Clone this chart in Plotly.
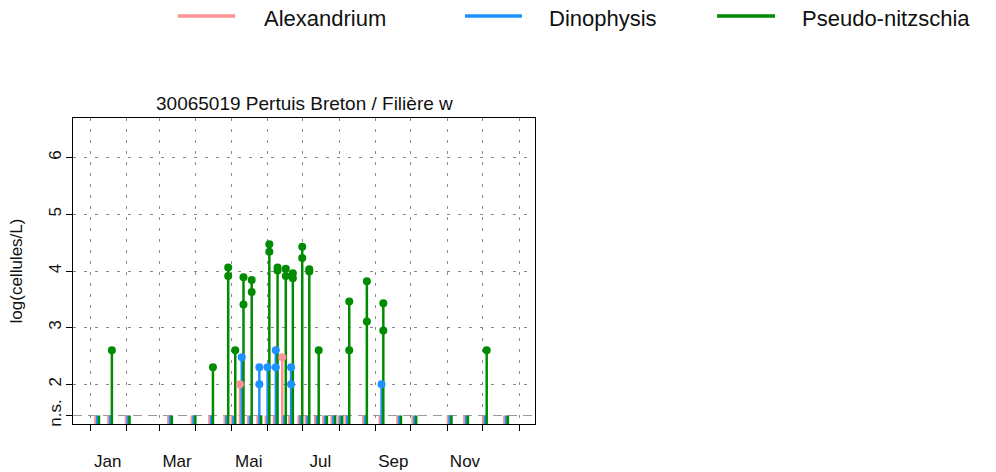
import pandas as pd
import plotly.graph_objects as go

# Sampling dates at the station (one triplet of stems per date)
sample_dates = [
    "2021-01-07", "2021-01-18", "2021-02-02", "2021-03-10", "2021-03-30",
    "2021-04-14", "2021-04-27", "2021-05-03", "2021-05-10", "2021-05-17",
    "2021-05-25", "2021-06-01", "2021-06-08", "2021-06-15", "2021-06-21",
    "2021-06-29", "2021-07-05", "2021-07-13", "2021-07-20", "2021-07-27",
    "2021-08-02", "2021-08-08", "2021-08-23", "2021-09-06", "2021-09-21",
    "2021-10-04", "2021-11-03", "2021-11-17", "2021-12-03", "2021-12-21",
]

# Significant counts, log10(cells/L); every other sampled date is n.s.
alexandrium_dates = ["2021-05-10", "2021-06-15"]
alexandrium_values = [2.00, 2.48]

dinophysis_dates = ["2021-05-10", "2021-05-25", "2021-05-25", "2021-06-01",
                    "2021-06-08", "2021-06-08", "2021-06-21", "2021-06-21",
                    "2021-09-06"]
dinophysis_values = [2.48, 2.30, 2.00, 2.30, 2.60, 2.30, 2.30, 2.00, 2.00]

pseudo_nitzschia_dates = ["2021-01-18", "2021-04-14", "2021-04-27", "2021-04-27",
                          "2021-05-03", "2021-05-10", "2021-05-10", "2021-05-17",
                          "2021-05-17", "2021-06-01", "2021-06-01", "2021-06-08",
                          "2021-06-08", "2021-06-15", "2021-06-15", "2021-06-21",
                          "2021-06-21", "2021-06-29", "2021-06-29", "2021-07-05",
                          "2021-07-05", "2021-07-13", "2021-08-08", "2021-08-08",
                          "2021-08-23", "2021-08-23", "2021-09-06", "2021-09-06",
                          "2021-12-03"]
pseudo_nitzschia_values = [2.60, 2.30, 4.06, 3.91, 2.60, 3.89, 3.41, 3.84, 3.63,
                           4.47, 4.34, 4.06, 4.01, 4.04, 3.91, 3.96, 3.87, 4.43,
                           4.23, 4.03, 3.99, 2.60, 3.46, 2.60, 3.82, 3.11, 3.43,
                           2.95, 2.60]

taxa = ["Alexandrium", "Dinophysis", "Pseudo-nitzschia"]
taxon_colors = ["#FF9393", "#1E90FF", "#008B00"]
taxon_shift_hours = [-36, 0, 36]

y_tick_values = [2, 3, 4, 5, 6]
ns_level = 1.45
y_range = [1.3, 6.7]
x_range = ["2020-12-17 09:36", "2022-01-14 14:24"]
month_label_dates = ["2021-01-16", "2021-03-16", "2021-05-16",
                     "2021-07-16", "2021-09-16", "2021-11-16"]
month_labels = ["Jan", "Mar", "Mai", "Jul", "Sep", "Nov"]

series = [
    (alexandrium_dates, alexandrium_values),
    (dinophysis_dates, dinophysis_values),
    (pseudo_nitzschia_dates, pseudo_nitzschia_values),
]

FONT = "Liberation Sans, Arial, sans-serif"
fmt = "%Y-%m-%d %H:%M:%S"

fig = go.Figure()

# stems: from the bottom of the panel up to the highest value of the date
# (or up to the n.s. level when nothing was significant)
marker_traces = []
for name, color, shift_h, (dates, values) in zip(taxa, taxon_colors,
                                                  taxon_shift_hours, series):
    shift = pd.Timedelta(hours=shift_h)
    peaks = {}
    for d, v in zip(dates, values):
        peaks[d] = max(peaks.get(d, ns_level), v)
    xs, ys = [], []
    for d in sample_dates:
        t = (pd.Timestamp(d) + shift).strftime(fmt)
        xs += [t, t, None]
        ys += [y_range[0], peaks.get(d, ns_level), None]
    fig.add_trace(go.Scatter(x=xs, y=ys, mode="lines", name=name,
                             line=dict(color=color, width=2.5),
                             hoverinfo="skip", showlegend=False))
    marker_traces.append(go.Scatter(
        x=[(pd.Timestamp(d) + shift).strftime(fmt) for d in dates], y=values,
        mode="markers", name=name,
        marker=dict(color=color, size=8, line=dict(width=0)),
        showlegend=False))

for tr in marker_traces:
    fig.add_trace(tr)

# carrier for the n.s. tick on the overlaid axis
fig.add_trace(go.Scatter(x=[x_range[0]], y=[ns_level], yaxis="y2",
                         mode="markers", marker=dict(opacity=0),
                         hoverinfo="skip", showlegend=False))

grid_color = "#8a8a8a"

# n.s. threshold line
fig.add_shape(type="line", xref="paper", x0=0, x1=1, yref="y",
              y0=ns_level, y1=ns_level, layer="below",
              line=dict(color="#9a9a9a", width=1.2, dash="9px,6px"))

# legend drawn along the top of the page
legend_line_px = [(178, 235), (465, 522), (717, 775)]
legend_text_px = [262, 547, 800]
plot_left, plot_width = 73, 462
plot_bottom, plot_height = 424, 306


def px_x(p):
    return (p - plot_left) / plot_width


def px_y(p):
    return (plot_bottom - p) / plot_height


for name, color, (a, b), tx in zip(taxa, taxon_colors, legend_line_px,
                                   legend_text_px):
    fig.add_shape(type="line", xref="paper", yref="paper",
                  x0=px_x(a), x1=px_x(b), y0=px_y(16), y1=px_y(16),
                  line=dict(color=color, width=3.5))
    fig.add_annotation(text=name, xref="paper", yref="paper",
                       x=px_x(tx), y=px_y(18), xanchor="left",
                       yanchor="middle", showarrow=False,
                       font=dict(family=FONT, size=22, color="#111111"))

fig.add_annotation(text="30065019 Pertuis Breton / Filière w",
                   xref="paper", yref="paper", x=0.5, y=px_y(104),
                   xanchor="center", yanchor="middle", showarrow=False,
                   font=dict(family=FONT, size=19, color="#111111"))

fig.update_layout(
    width=996, height=472,
    margin=dict(l=73, r=461, t=118, b=48, autoexpand=False),
    paper_bgcolor="white", plot_bgcolor="white",
    font=dict(family=FONT, color="#111111"),
    xaxis=dict(
        type="date", range=x_range, automargin=False,
        tickmode="array", tickvals=month_label_dates, ticktext=month_labels,
        ticks="", ticklabelstandoff=22, showgrid=False, zeroline=False,
        showline=True, linecolor="black", linewidth=1, mirror=True,
        tickfont=dict(family=FONT, size=17, color="#111111"),
        minor=dict(tickmode="array",
                   tickvals=[f"2021-{m:02d}-01" for m in range(1, 13)] + ["2022-01-01"],
                   ticks="outside", ticklen=6, tickcolor="black", tickwidth=1,
                   showgrid=True, gridcolor=grid_color, gridwidth=1,
                   griddash="3px,8px"),
    ),
    yaxis=dict(
        range=y_range, automargin=False, tickmode="array",
        tickvals=y_tick_values, ticktext=[str(v) for v in y_tick_values],
        ticks="outside", ticklen=6, tickcolor="black", tickangle=-90,
        ticklabelstandoff=-2,
        showgrid=True, gridcolor=grid_color, gridwidth=1, griddash="3px,8px",
        zeroline=False, showline=True, linecolor="black", linewidth=1,
        mirror=True, tickfont=dict(family=FONT, size=17, color="#111111"),
        title=dict(text="log(cellules/L)", standoff=19,
                   font=dict(family=FONT, size=17, color="#111111")),
    ),
    yaxis2=dict(
        range=y_range, overlaying="y", side="left", automargin=False,
        tickmode="array", tickvals=[ns_level], ticktext=["n.s."],
        ticks="outside", ticklen=6, tickcolor="black", tickangle=-90,
        ticklabelstandoff=-2,
        showgrid=False, zeroline=False, showline=False,
        tickfont=dict(family=FONT, size=17, color="#111111"),
    ),
)

fig.write_html("out.html")
